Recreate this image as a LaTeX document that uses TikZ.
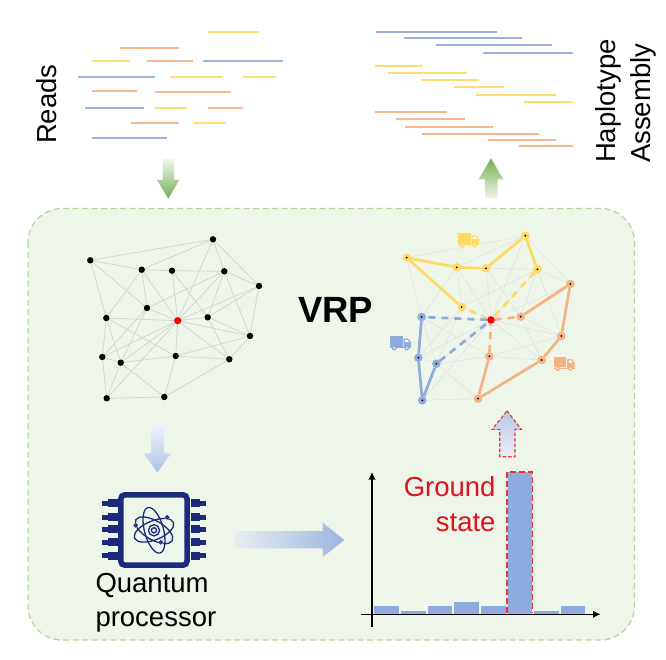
\documentclass[tikz,border=0pt]{standalone}
\usepackage{fontspec}
\setmainfont{Liberation Sans}
\usetikzlibrary{arrows.meta,calc}
\pgfdeclarelayer{panellayer}
\pgfdeclarelayer{edgelayer}
\pgfsetlayers{panellayer,edgelayer,main}
\definecolor{rblue}{HTML}{8FAADC}
\definecolor{rorange}{HTML}{F4B183}
\definecolor{ryellow}{HTML}{FFD966}
\definecolor{panelfill}{HTML}{EEF5E9}
\definecolor{panelline}{HTML}{B7D7A2}
\definecolor{chipblue}{HTML}{1C2A7E}
\definecolor{dashred}{HTML}{E8303A}
\definecolor{labelred}{HTML}{DC141E}
\definecolor{gdark}{HTML}{76AD52}
\definecolor{glight}{HTML}{F0F6EB}
\definecolor{btop}{HTML}{F0F3FA}
\definecolor{bbot}{HTML}{B0C4E6}
\definecolor{bleft}{HTML}{E8EEF2}
\definecolor{bright}{HTML}{9DB5E0}
\definecolor{rtop}{HTML}{B5C8E8}
\definecolor{rbot}{HTML}{E9EEF5}
\tikzset{
  every node/.style={inner sep=0pt,outer sep=0pt},
  label text/.style={font=\fontsize{27.5}{33}\selectfont,text=black},
  read/.style={line width=2.2pt,draw=#1!88!white},
  contig/.style={line width=1.7pt,draw=#1!92!white},
  edge/.style={line width=0.8pt,draw=black!17},
  soft edge/.style={line width=0.8pt,draw=black!10},
  dot/.style={circle,fill=black,minimum size=6.4pt},
  depot/.style={circle,fill=red,minimum size=7.2pt},
  stop/.style={circle,fill=#1,minimum size=8.6pt},
  route/.style={line width=2.7pt,draw=#1},
  route dash/.style={line width=2.7pt,draw=#1,dash pattern=on 7pt off 6pt},
  orbit/.style={draw=chipblue,line width=1.3pt},
  truck/.pic={
    \fill[pic actions] (0,0) rectangle (12.6,10.6);
    \fill[pic actions] (13.6,2.6) -- (18,2.6) -- (21,6) -- (21,11) -- (13.6,11) -- cycle;
    \fill[pic actions] (0,11.4) rectangle (21,12.4);
    \fill[white!70!panelfill] (15.2,4) -- (17.6,4) -- (19.2,6.2) -- (15.2,6.2) -- cycle;
    \fill[pic actions] (4.2,12) circle (2.4);
    \fill[pic actions] (16.8,12) circle (2.4);
    \fill[panelfill] (4.2,12) circle (1.1);
    \fill[panelfill] (16.8,12) circle (1.1);
  },
}
\begin{document}
\begin{tikzpicture}[x=1pt,y=-1pt]
\useasboundingbox (0,0) rectangle (666,660);

% Page background and the panel behind the routing stage
\begin{pgfonlayer}{panellayer}
\fill[white] (0,0) rectangle (666,660);
\draw[panelline,fill=panelfill,line width=1.3pt,dash pattern=on 6pt off 3.5pt,rounded corners=34pt]
  (28,208.5) rectangle (634.5,640);
\end{pgfonlayer}

% Sequencing reads
\foreach \xa/\xb/\yy/\cc in {
  207.7/259.3/32.3/ryellow, 120.3/178.7/47.7/rorange,
  91.7/130/61/ryellow, 147/192.7/61/rorange, 203/283/61/rblue,
  77.7/155/76.7/rblue, 170/223/77/ryellow, 243/276/76.7/ryellow,
  91.7/136.7/91.3/rorange, 154.7/231.3/92/rorange,
  85/144/107.7/rblue, 154.7/186.7/107.7/ryellow, 207.7/243.3/107.7/rorange,
  131/178.7/123/rorange, 192.7/225.7/123/ryellow, 91.7/167.3/138/rblue}
  {\draw[read=\cc] (\xa,\yy) -- (\xb,\yy);}

% Assembled haplotypes
\foreach \xa/\xb/\yy/\cc in {
  375.7/497.3/31.7/rblue, 404.3/521.7/38.3/rblue, 436.3/552/44.7/rblue, 483/573.3/52.7/rblue,
  375.3/423.3/65.7/ryellow, 387.7/466.7/73.3/ryellow, 421/478.7/80.3/ryellow,
  454/504/87.3/ryellow, 476/556.3/95.3/ryellow, 523.7/573.3/102.3/ryellow,
  375/446.7/112.3/rorange, 395.7/465/119.3/rorange, 404.7/492.7/126.7/rorange,
  422.3/538.7/133.7/rorange, 487.7/556.3/139.7/rorange, 519.3/573.3/146.3/rorange}
  {\draw[contig=\cc] (\xa,\yy) -- (\xb,\yy);}

% Side labels
\node[label text,rotate=90,anchor=base west] (readslabel) at (56,144) {Reads};
\node[label text,rotate=90,anchor=base west] (haplabel) at (615,163) {Haplotype};
\node[label text,rotate=90,anchor=base west] (asmlabel) at (650,163) {Assembly};
\node[anchor=base west,font=\fontsize{36.5}{40}\bfseries\selectfont] (vrplabel) at (298,322) {VRP};

% Flow arrows with gradient fills
\shade[top color=glight,bottom color=gdark]
  (162.7,159) -- (174,159) -- (174,180) -- (179.3,180) -- (168.3,198.7) -- (157,180) -- (162.7,180) -- cycle;
\shade[top color=gdark,bottom color=glight]
  (491,158.3) -- (503.3,179.3) -- (497.7,179.3) -- (497.7,198.3) -- (485,198.3) -- (485,179.3) -- (478.7,179.3) -- cycle;
\shade[top color=btop,bottom color=bbot]
  (151,422.7) -- (164,422.7) -- (164,453.3) -- (171,453.3) -- (157.3,472.7) -- (143.7,453.3) -- (151,453.3) -- cycle;
\shade[left color=bleft,right color=bright]
  (233.3,531) -- (322.7,531) -- (322.7,522.7) -- (344.3,540) -- (322.7,557) -- (322.7,548.3) -- (233.3,548.3) -- cycle;
\shade[top color=rtop,bottom color=rbot]
  (507,410.7) -- (521.3,429.3) -- (515,429.3) -- (515,456.7) -- (499.7,456.7) -- (499.7,429.3) -- (492.3,429.3) -- cycle;
\draw[dashred,line width=1.1pt,dash pattern=on 3.5pt off 2pt]
  (507,410.7) -- (521.3,429.3) -- (515,429.3) -- (515,456.7) -- (499.7,456.7) -- (499.7,429.3) -- (492.3,429.3) -- cycle;

% Input graph
\foreach \n/\px/\py in {a/90.3/260.3,b/213/239.3,c/141.7/269.7,d/172/270.7,e/224.3/271.3,
  f/259/286,g/147/308,h/106.3/318,i/207.7/317.3,j/250/336,k/102.3/357,l/120.7/362.7,
  m/175.7/356,n/229.3/359.3,o/106.7/398.3,p/164.3/397}
  {\node[dot] (L\n) at (\px,\py) {};}
\node[depot] (Lr) at (177.7,320.7) {};

% Routed graph: customers carry a halo in their route colour
\foreach \n/\px/\py/\cc in {a/406.7/257.7/ryellow,b/525.3/235.7/ryellow,c/456.7/267.3/ryellow,
  d/486/268.3/ryellow,e/537.3/269.3/ryellow,g/461.7/307/ryellow,
  f/570.3/284/rorange,i/520.7/316.7/rorange,j/561.3/336/rorange,m/489.3/356.3/rorange,
  n/541.7/360/rorange,p/478/398.7/rorange,
  h/421.7/317/rblue,k/418.3/357.7/rblue,l/436.3/363.7/rblue,o/422.3/400.3/rblue}
  {\node[stop=\cc] (R\n) at (\px,\py) {};}
\node[depot] (Rr) at (491,320) {};

% Shared edge set of both graphs
\begin{pgfonlayer}{edgelayer}
\foreach \u/\v in {a/b,a/c,a/h,a/g,b/c,b/e,b/f,b/r,c/d,c/h,c/g,c/r,d/e,d/r,d/i,e/f,e/r,e/g,e/i,e/j,
  f/i,f/r,f/j,g/r,g/l,g/k,h/r,h/k,h/l,h/m,i/r,i/j,i/n,j/r,j/m,j/n,r/m,r/n,r/k,r/l,r/o,
  k/l,k/o,l/m,l/o,l/p,m/n,m/p,n/p,o/p}
  {\draw[edge] (L\u) -- (L\v); \draw[soft edge] (R\u) -- (R\v);}
\end{pgfonlayer}

% Vehicle routes
\draw[route=ryellow] (Rg) -- (Ra) -- (Rc) -- (Rd) -- (Rb) -- (Re);
\draw[route dash=ryellow] (Rr) -- (Rg);
\draw[route dash=ryellow] (Re) -- (Rr);
\draw[route=rorange] (Ri) -- (Rf) -- (Rj) -- (Rn) -- (Rp) -- (Rm);
\draw[route dash=rorange] (Rr) -- (Ri);
\draw[route dash=rorange] (Rm) -- (Rr);
\draw[route=rblue] (Rh) -- (Rk) -- (Ro) -- (Rl);
\draw[route dash=rblue] (Rr) -- (Rh);
\draw[route dash=rblue] (Rl) -- (Rr);
\foreach \n in {a,b,c,d,e,f,g,h,i,j,k,l,m,n,o,p}
  {\fill[black] (R\n) circle (1pt);}
\node[depot] at (Rr) {};

% Delivery trucks
\pic[fill=ryellow] at (458,233) {truck};
\pic[fill=rblue] at (390,336) {truck};
\pic[fill=rorange] at (553.5,356.5) {truck};

% Quantum chip
\draw[chipblue,line width=5.5pt,rounded corners=4pt] (120.8,494.8) rectangle (187,565.2);
\foreach \yy in {503.3,517,529.3,542.3,555.7} {
  \fill[chipblue] (108,\yy-4) rectangle (118.5,\yy+4);
  \fill[chipblue] (102,\yy-2.5) rectangle (108.5,\yy+2.5);
  \fill[chipblue] (190.5,\yy-4) rectangle (200,\yy+4);
  \fill[chipblue] (199.5,\yy-2.5) rectangle (206,\yy+2.5);
}
\begin{scope}[shift={(154,530.3)}]
  \draw[orbit] (0,0) circle (5.6);
  \draw[orbit] (0,0) circle (2.6);
  \draw[orbit,rotate=-75] (0,0) ellipse (23.5 and 9.5);
  \draw[orbit,rotate=22] (0,0) ellipse (21 and 9.5);
  \draw[orbit,rotate=-30] (0,0) ellipse (21 and 9.5);
\end{scope}
\foreach \px/\py in {167.3/517.3,135.7/525.3,160.7/542.3} {
  \fill[panelfill] (\px,\py) circle (2.4);
  \draw[orbit] (\px,\py) circle (1.5);
}
\node[label text,anchor=base west] (qlabel) at (95.5,592.7) {Quantum};
\node[label text,anchor=base west] (plabel) at (95.5,626.7) {processor};

% Energy histogram
\foreach \xa/\xb/\tp in {374.3/399.3/606,401/425.7/611,427.7/452.3/606,454.3/478.7/601.7,
  481/505.7/606,507.7/532.3/472,534.3/559/611,560.7/585.3/606}
  {\fill[rblue] (\xa,\tp) rectangle (\xb,613.5);}
\draw[dashred,line width=1.7pt,dash pattern=on 6pt off 3pt] (507,613) -- (507,472) -- (532.5,472) -- (532.5,613);
\coordinate (yaxisstart) at (372,626.7);
\coordinate (yaxisend) at (372,472);
\coordinate (xaxisstart) at (361,614.3);
\coordinate (xaxisend) at (600.5,614.3);
\draw[line width=1.6pt,-{Latex[length=7.5pt,width=7.5pt]}] (yaxisstart) -- (yaxisend);
\draw[line width=1.6pt,-{Latex[length=7.5pt,width=7.5pt]}] (xaxisstart) -- (xaxisend);
\node[label text,text=labelred,anchor=base east] (gslabel) at (495.5,496.7) {Ground};
\node[label text,text=labelred,anchor=base east] (statelabel) at (495.5,531.7) {state};
\end{tikzpicture}
\end{document}
